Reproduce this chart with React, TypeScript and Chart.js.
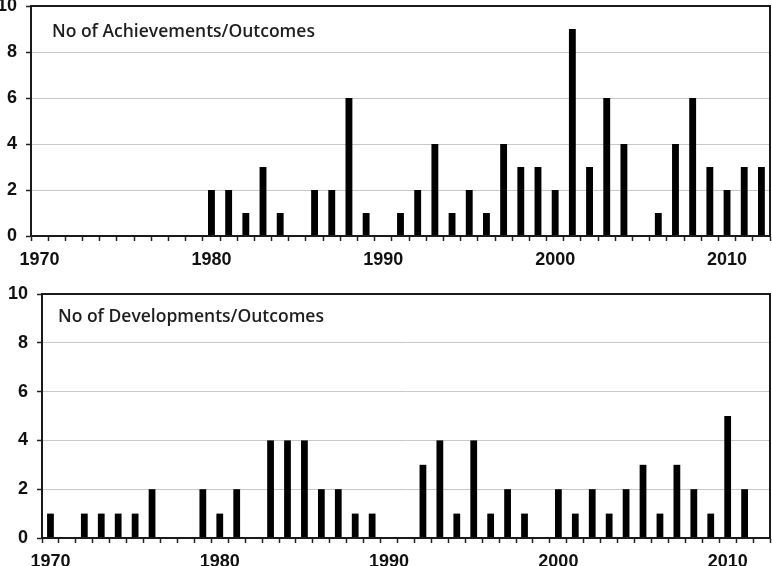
import React, { useEffect, useRef } from 'react';
import { Chart, registerables } from 'chart.js';
Chart.register(...registerables);

const years = [
  '1970', '1971', '1972', '1973', '1974', '1975', '1976', '1977', '1978', '1979',
  '1980', '1981', '1982', '1983', '1984', '1985', '1986', '1987', '1988', '1989',
  '1990', '1991', '1992', '1993', '1994', '1995', '1996', '1997', '1998', '1999',
  '2000', '2001', '2002', '2003', '2004', '2005', '2006', '2007', '2008', '2009',
  '2010', '2011', '2012',
];

const achievements = [
  0, 0, 0, 0, 0, 0, 0, 0, 0, 0,
  2, 2, 1, 3, 1, 0, 2, 2, 6, 1,
  0, 1, 2, 4, 1, 2, 1, 4, 3, 3,
  2, 9, 3, 6, 4, 0, 1, 4, 6, 3,
  2, 3, 3,
];

const developments = [
  1, 0, 1, 1, 1, 1, 2, 0, 0, 2,
  1, 2, 0, 4, 4, 4, 2, 2, 1, 1,
  0, 0, 3, 4, 1, 4, 1, 2, 1, 0,
  2, 1, 2, 1, 2, 3, 1, 3, 2, 1,
  5, 2, 0,
];

const xTickLabels = ['1970', '1980', '1990', '2000', '2010'];
const yMin = 0;
const yMax = 10;
const yStep = 2;

const topTitle = 'No of Achievements/Outcomes';
const bottomTitle = 'No of Developments/Outcomes';

const framePlugin = {
  id: 'frameTitle',
  afterDraw(chart: any, _args: any, opts: any) {
    const { ctx, chartArea: a } = chart;
    ctx.save();
    ctx.strokeStyle = '#1a1a1a';
    ctx.lineWidth = 2;
    ctx.strokeRect(a.left, a.top, a.right - a.left, a.bottom - a.top);
    ctx.font = '600 17.5px "Open Sans"';
    ctx.fillStyle = '#1e1e1e';
    ctx.textBaseline = 'middle';
    ctx.textAlign = 'left';
    ctx.fillText(opts.text, a.left + opts.dx, a.top + opts.dy);
    ctx.restore();
  },
};

function makeConfig(values: number[], title: string, yWidth: number, padTop: number, dx: number, dy: number): any {
  return {
    type: 'bar',
    data: {
      labels: years,
      datasets: [
        {
          data: values,
          backgroundColor: '#000000',
          borderWidth: 0,
          barPercentage: 0.4,
          categoryPercentage: 1.0,
        },
      ],
    },
    options: {
      responsive: false,
      animation: false,
      layout: { padding: { top: padTop, left: 0, right: 2, bottom: 0 } },
      plugins: {
        legend: { display: false },
        tooltip: { enabled: false },
        frameTitle: { text: title, dx, dy },
      },
      scales: {
        x: {
          offset: true,
          grid: {
            offset: true,
            drawOnChartArea: false,
            drawTicks: true,
            tickLength: 5,
            tickColor: '#222',
            tickWidth: 1.5,
          },
          border: { color: '#111', width: 2 },
          ticks: {
            autoSkip: false,
            maxRotation: 0,
            padding: 8,
            color: '#111',
            font: { family: '"Liberation Sans", Arial, sans-serif', size: 18, weight: 'bold' },
            callback: function (this: any, _v: any, i: number) {
              const l = years[i];
              return xTickLabels.includes(l) ? l : '';
            },
          },
          afterFit: (s: any) => {
            s.height = 32;
          },
        },
        y: {
          min: yMin,
          max: yMax,
          grid: {
            color: '#c8c8c8',
            lineWidth: 1,
            drawTicks: true,
            tickLength: 5,
            tickColor: '#222',
            tickWidth: 1.5,
          },
          border: { color: '#111', width: 2 },
          ticks: {
            stepSize: yStep,
            padding: 9,
            color: '#111',
            font: { family: '"Liberation Sans", Arial, sans-serif', size: 18, weight: 'bold' },
          },
          afterFit: (s: any) => {
            s.width = yWidth;
          },
        },
      },
    },
    plugins: [framePlugin],
  };
}

function ChartCanvas({ config, top, width, height }: { config: any; top: number; width: number; height: number }) {
  const ref = useRef<HTMLCanvasElement | null>(null);
  useEffect(() => {
    if (!ref.current) return;
    const c = new Chart(ref.current, config);
    return () => c.destroy();
  }, []);
  return (
    <canvas
      ref={ref}
      width={width}
      height={height}
      style={{ position: 'absolute', left: 0, top, width, height, display: 'block' }}
    />
  );
}

export default function App() {
  return (
    <div
      style={{
        position: 'fixed',
        left: 0,
        top: 0,
        width: 772,
        height: 566,
        overflow: 'hidden',
        background: '#ffffff',
      }}
    >
      <ChartCanvas config={makeConfig(achievements, topTitle, 31, 20, 21, 26)} top={-14} width={772} height={282} />
      <ChartCanvas config={makeConfig(developments, bottomTitle, 42, 26, 16, 23)} top={268} width={772} height={302} />
    </div>
  );
}
